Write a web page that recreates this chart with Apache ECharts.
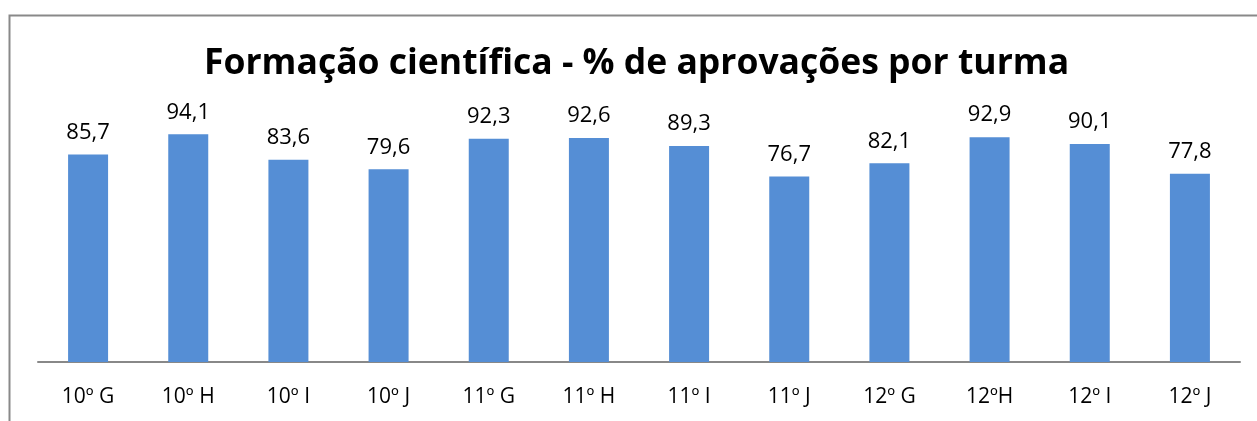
<!DOCTYPE html>
<html>
<head>
<meta charset="utf-8">
<script src="https://cdn.jsdelivr.net/npm/echarts@6/dist/echarts.min.js"></script>
<style>
  html, body { margin: 0; padding: 0; background: #fff; }
  #chart { width: 1257px; height: 421px; }
</style>
</head>
<body>
<div id="chart"></div>
<script>
// turmas e % de aprovações
const turmas = ['10º G', '10º H', '10º I', '10º J', '11º G', '11º H', '11º I', '11º J', '12º G', '12ºH', '12º I', '12º J'];
const aprovacoes = [85.7, 94.1, 83.6, 79.6, 92.3, 92.6, 89.3, 76.7, 82.1, 92.9, 90.1, 77.8];

const chart = echarts.init(document.getElementById('chart'));
const option = {
    backgroundColor: '#fff',
    animation: false,
    title: {
        text: 'Formação científica - % de aprovações por turma',
        left: 204,
        top: 46,
        padding: 0,
        textStyle: {
            color: '#000',
            fontSize: 35.5,
            fontWeight: 'bold',
            fontFamily: 'Open Sans'
        }
    },
    // moldura do gráfico (cortada à direita e em baixo)
    graphic: [{
        type: 'rect',
        shape: { x: 9.5, y: 15.5, width: 1300, height: 500 },
        style: { fill: 'none', stroke: '#898989', lineWidth: 2 },
        silent: true
    }],
    grid: {
        left: 38,
        right: 17,
        top: 120,
        bottom: 59
    },
    xAxis: {
        type: 'category',
        data: turmas,
        axisLine: { show: true, lineStyle: { color: '#888', width: 2 } },
        axisTick: { show: false },
        axisLabel: {
            margin: 25,
            fontSize: 21,
            color: '#000',
            fontFamily: 'Open Sans'
        }
    },
    yAxis: {
        type: 'value',
        min: 0,
        max: 100,
        show: false,
        splitLine: { show: false }
    },
    series: [{
        type: 'bar',
        data: aprovacoes,
        barWidth: 40,
        itemStyle: { color: '#558ED5' },
        label: {
            show: true,
            position: 'top',
            distance: 11,
            fontSize: 22,
            color: '#000',
            fontFamily: 'Open Sans',
            formatter: (p) => p.value.toFixed(1).replace('.', ',')
        }
    }]
};
chart.setOption(option);
</script>
</body>
</html>
